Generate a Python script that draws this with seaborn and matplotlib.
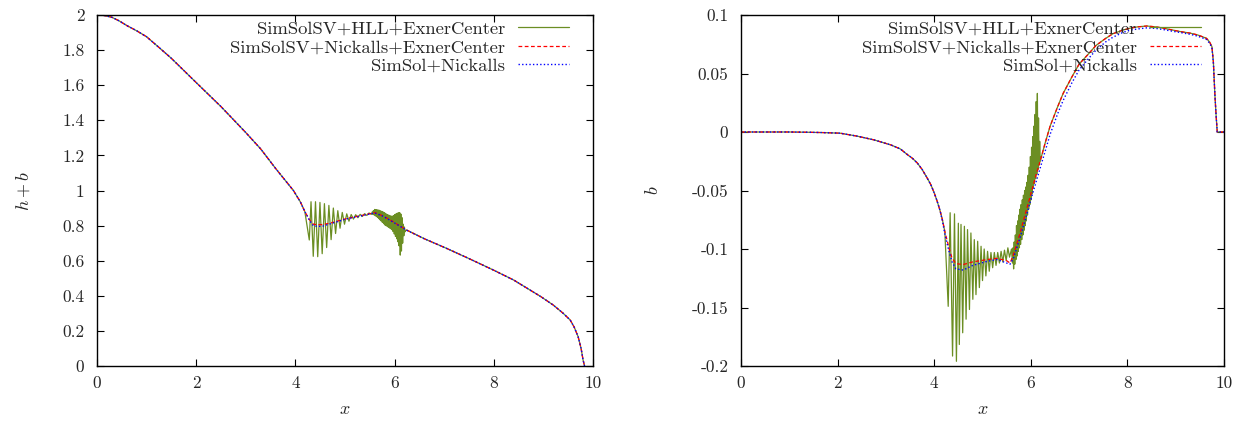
import numpy as np
import matplotlib
matplotlib.use("Agg")
import matplotlib.pyplot as plt
import seaborn as sns

# ---------------- data ----------------
labels = ["SimSolSV+HLL+ExnerCenter", "SimSolSV+Nickalls+ExnerCenter", "SimSol+Nickalls"]

# left panel: h+b
left_x = [0, 0.15, 0.3, 0.45, 0.6, 0.8, 1.0, 1.25, 1.5, 2.0, 2.5, 3.0, 3.3, 3.6, 3.96, 4.1,
          4.19, 4.28, 4.36, 4.45, 4.55, 4.7, 5.03, 5.37, 5.6, 5.77, 5.97, 6.24, 6.6, 7.05, 7.5,
          7.99, 8.4, 8.73, 8.95, 9.2, 9.4, 9.54, 9.62, 9.70, 9.76, 9.80, 9.83]
hb_nickalls_sv = [2.0, 1.997, 1.987, 1.966, 1.94, 1.91, 1.876, 1.815, 1.753, 1.615, 1.478, 1.33,
                  1.237, 1.126, 1.0, 0.935, 0.88, 0.835, 0.808, 0.805, 0.806, 0.814, 0.84, 0.86,
                  0.874, 0.855, 0.822, 0.775, 0.725, 0.67, 0.612, 0.547, 0.49, 0.433, 0.395,
                  0.347, 0.30, 0.262, 0.222, 0.167, 0.10, 0.034, 0.0]
hb_simsol = [2.0, 1.997, 1.987, 1.966, 1.94, 1.91, 1.876, 1.815, 1.753, 1.615, 1.478, 1.33,
             1.237, 1.126, 1.0, 0.935, 0.88, 0.832, 0.80, 0.795, 0.797, 0.81, 0.838, 0.858,
             0.872, 0.853, 0.82, 0.774, 0.725, 0.67, 0.612, 0.547, 0.49, 0.433, 0.395,
             0.347, 0.30, 0.262, 0.222, 0.167, 0.10, 0.034, 0.0]
# HLL oscillating parts (left)
hb_hll_osc_x = [4.28, 4.315, 4.36, 4.405, 4.45, 4.495, 4.54, 4.585, 4.63, 4.675, 4.72, 4.765,
                4.81, 4.855, 4.90, 4.945, 4.99, 5.035, 5.08, 5.125, 5.17, 5.215, 5.26, 5.305,
                5.35, 5.395, 5.44, 5.485, 5.53,
                5.550, 5.562, 5.574, 5.586, 5.598, 5.610, 5.622, 5.634, 5.646, 5.658, 5.670,
                5.682, 5.694, 5.706, 5.718, 5.730, 5.742, 5.754, 5.766, 5.778, 5.790, 5.802,
                5.814, 5.826, 5.838, 5.850, 5.862, 5.874, 5.886, 5.898, 5.910, 5.922, 5.934,
                5.946, 5.958, 5.970, 5.982, 5.994, 6.006, 6.018, 6.030, 6.042, 6.054, 6.066,
                6.078, 6.090, 6.102, 6.114, 6.126, 6.138, 6.150, 6.162, 6.174, 6.186, 6.198,
                6.210, 6.222]
hb_hll_osc_y = [0.718, 0.936, 0.625, 0.936, 0.623, 0.932, 0.64, 0.925, 0.675, 0.915, 0.72, 0.90,
                0.755, 0.885, 0.785, 0.875, 0.808, 0.867, 0.825, 0.863, 0.837, 0.862, 0.845, 0.864,
                0.852, 0.868, 0.858, 0.872, 0.864,
                0.878, 0.864, 0.886, 0.861, 0.892, 0.856, 0.891, 0.851, 0.890, 0.846, 0.889,
                0.840, 0.887, 0.833, 0.884, 0.826, 0.881, 0.818, 0.878, 0.811, 0.874, 0.804,
                0.870, 0.800, 0.866, 0.796, 0.862, 0.791, 0.859, 0.786, 0.856, 0.782, 0.854,
                0.777, 0.854, 0.766, 0.857, 0.752, 0.863, 0.738, 0.867, 0.725, 0.871, 0.708,
                0.873, 0.685, 0.874, 0.632, 0.866, 0.655, 0.845, 0.700, 0.808, 0.742, 0.792,
                0.765, 0.772]

# right panel: b
right_x = [0, 1.0, 1.35, 1.7, 2.05, 2.4, 2.75, 3.1, 3.3, 3.45, 3.55, 3.65, 3.75, 3.85, 3.93,
           4.0, 4.06, 4.12, 4.17, 4.22, 4.3, 4.37, 4.45, 4.6, 4.8, 5.1, 5.3, 5.5, 5.57, 5.64,
           5.78, 5.9, 6.0, 6.1, 6.2, 6.3, 6.4, 6.55, 6.67, 6.85, 7.0, 7.2, 7.35, 7.55, 7.7,
           7.9, 8.05, 8.2, 8.4, 8.6, 8.75, 8.95, 9.1, 9.3, 9.45, 9.55, 9.64, 9.7, 9.75, 9.78,
           9.81, 9.835, 9.86, 10.0]
b_nickalls_sv = [0, 0, -0.0002, -0.0005, -0.001, -0.0035, -0.0067, -0.011, -0.0145, -0.0195,
                 -0.0225, -0.0265, -0.032, -0.039, -0.045, -0.052, -0.059, -0.067, -0.075,
                 -0.085, -0.098, -0.108, -0.1125, -0.1133, -0.111, -0.109, -0.108, -0.110,
                 -0.112, -0.105, -0.086, -0.068, -0.053, -0.038, -0.024, -0.009, 0.005, 0.021,
                 0.033, 0.047, 0.058, 0.067, 0.074, 0.080, 0.084, 0.087, 0.0887, 0.0898, 0.0906,
                 0.0898, 0.0887, 0.087, 0.0858, 0.0845, 0.083, 0.0815, 0.080, 0.077, 0.073,
                 0.06, 0.033, 0.015, 0.0, 0.0]
b_simsol = [0, 0, -0.0002, -0.0005, -0.001, -0.0035, -0.0067, -0.011, -0.0145, -0.0195,
            -0.0225, -0.0265, -0.032, -0.039, -0.045, -0.052, -0.059, -0.067, -0.076,
            -0.087, -0.101, -0.111, -0.117, -0.118, -0.114, -0.1105, -0.109, -0.112,
            -0.113, -0.108, -0.090, -0.073, -0.058, -0.044, -0.030, -0.016, -0.002, 0.015,
            0.027, 0.042, 0.053, 0.063, 0.070, 0.077, 0.081, 0.085, 0.087, 0.088, 0.089,
            0.0885, 0.0875, 0.086, 0.085, 0.0835, 0.082, 0.0805, 0.079, 0.076, 0.072,
            0.059, 0.033, 0.015, 0.0, 0.0]
b_hll_osc_x = [4.29, 4.33, 4.38, 4.42, 4.46, 4.50, 4.52, 4.555, 4.59, 4.625, 4.66, 4.69, 4.73,
               4.76, 4.80, 4.83, 4.865, 4.90, 4.935, 4.97, 5.00, 5.035, 5.07, 5.105, 5.14, 5.175,
               5.21, 5.245, 5.28, 5.315, 5.35, 5.385, 5.42, 5.455, 5.49, 5.525, 5.56, 5.60,
               5.620, 5.632, 5.644, 5.656, 5.668, 5.680, 5.692, 5.704, 5.716, 5.728, 5.740,
               5.752, 5.764, 5.776, 5.788, 5.800, 5.812, 5.824, 5.836, 5.848, 5.860, 5.872,
               5.884, 5.896, 5.908, 5.920, 5.932, 5.944, 5.956, 5.968, 5.980, 5.992, 6.004,
               6.016, 6.028, 6.040, 6.052, 6.064, 6.076, 6.088, 6.100, 6.112, 6.124, 6.136,
               6.148, 6.160, 6.172, 6.184, 6.196]
b_hll_osc_y = [-0.149, -0.069, -0.1915, -0.070, -0.196, -0.078, -0.1816, -0.079, -0.1716,
               -0.0806, -0.160, -0.0834, -0.1517, -0.0863, -0.143, -0.092, -0.139, -0.0934,
               -0.133, -0.0977, -0.127, -0.100, -0.123, -0.102, -0.119, -0.103, -0.116, -0.103,
               -0.114, -0.103, -0.112, -0.102, -0.111, -0.101, -0.110, -0.099, -0.107, -0.100,
               -0.112, -0.099, -0.117, -0.094, -0.113, -0.088, -0.109, -0.080, -0.106, -0.076,
               -0.102, -0.071, -0.099, -0.066, -0.096, -0.062, -0.092, -0.058, -0.088, -0.054,
               -0.084, -0.050, -0.080, -0.047, -0.076, -0.043, -0.071, -0.037, -0.066, -0.030,
               -0.062, -0.021, -0.058, -0.013, -0.053, -0.004, -0.048, 0.005, -0.044, 0.015,
               -0.040, 0.026, -0.036, 0.033, -0.032, 0.012, -0.028, -0.008, -0.025]

x_ticks = [0, 2, 4, 6, 8, 10]
x_ticklabels = ["0", "2", "4", "6", "8", "10"]
left_yticks = [0, 0.2, 0.4, 0.6, 0.8, 1.0, 1.2, 1.4, 1.6, 1.8, 2.0]
left_yticklabels = ["0", "0.2", "0.4", "0.6", "0.8", "1", "1.2", "1.4", "1.6", "1.8", "2"]
right_yticks = [-0.2, -0.15, -0.1, -0.05, 0, 0.05, 0.1]
right_yticklabels = ["-0.2", "-0.15", "-0.1", "-0.05", "0", "0.05", "0.1"]

# ---------------- style ----------------
sns.set_style("ticks")
plt.rcParams.update({
    "font.family": ["cmr10", "DejaVu Serif"],
    "mathtext.fontset": "cm",
    "axes.unicode_minus": False,
    "axes.formatter.use_mathtext": True,
    "font.size": 12.5,
})

GREEN = "#6b8e23"
RED = "#ff0000"
BLUE = "#0000ff"


def hll_series(base_x, base_y, osc_x, osc_y):
    bx = np.asarray(base_x, float)
    by = np.asarray(base_y, float)
    ox = np.asarray(osc_x, float)
    oy = np.asarray(osc_y, float)
    pre = bx < ox[0] - 0.05
    post = bx > ox[-1]
    return (np.concatenate([bx[pre], ox, bx[post]]),
            np.concatenate([by[pre], oy, by[post]]))


fig = plt.figure(figsize=(12.43, 4.21), dpi=100)
axL = fig.add_axes([97 / 1243, 1 - 366 / 421, 496 / 1243, 351 / 421])
axR = fig.add_axes([741 / 1243, 1 - 366 / 421, 483 / 1243, 351 / 421])


def draw(ax, bx, y_sv, y_ss, ox, oy):
    gx, gy = hll_series(bx, y_sv, ox, oy)
    sns.lineplot(x=gx, y=gy, ax=ax, color=GREEN, lw=0.9, label=labels[0],
                 estimator=None, sort=False)
    sns.lineplot(x=bx, y=y_sv, ax=ax, color=RED, lw=0.9, label=labels[1],
                 estimator=None, sort=False)
    sns.lineplot(x=bx, y=y_ss, ax=ax, color=BLUE, lw=1.0, label=labels[2],
                 estimator=None, sort=False)
    lines = ax.get_lines()
    lines[1].set_linestyle((0, (3.0, 2.0)))
    lines[2].set_linestyle((0, (1.0, 1.6)))


draw(axL, left_x, hb_nickalls_sv, hb_simsol, hb_hll_osc_x, hb_hll_osc_y)
draw(axR, right_x, b_nickalls_sv, b_simsol, b_hll_osc_x, b_hll_osc_y)

for ax, yt, ytl, ylim, ylab in [
    (axL, left_yticks, left_yticklabels, (0, 2), r"$h+b$"),
    (axR, right_yticks, right_yticklabels, (-0.2, 0.1), r"$b$"),
]:
    ax.set_xlim(0, 10)
    ax.set_ylim(*ylim)
    ax.set_xticks(x_ticks)
    ax.set_xticklabels(x_ticklabels)
    ax.set_yticks(yt)
    ax.set_yticklabels(ytl)
    ax.tick_params(direction="in", length=5, width=0.8, top=True, right=True,
                   labelsize=12.5, color="black")
    ax.tick_params(axis="y", pad=9)
    ax.tick_params(axis="x", pad=7)
    for s in ax.spines.values():
        s.set_visible(True)
        s.set_linewidth(1.0)
        s.set_color("black")
    ax.set_xlabel(r"$x$", fontsize=13, labelpad=8)
    ax.set_ylabel(ylab, fontsize=13, labelpad=22)
    ax.set_facecolor("white")
    leg = ax.legend(loc="upper right", bbox_to_anchor=(0.952, 0.983), frameon=False,
                    markerfirst=False, fontsize=13.4, handlelength=2.75,
                    handletextpad=0.7, labelspacing=0.13, borderpad=0, borderaxespad=0)
    for col in leg._legend_handle_box.get_children():
        col.align = "right"

fig.savefig("out.png", dpi=100, facecolor="white")
